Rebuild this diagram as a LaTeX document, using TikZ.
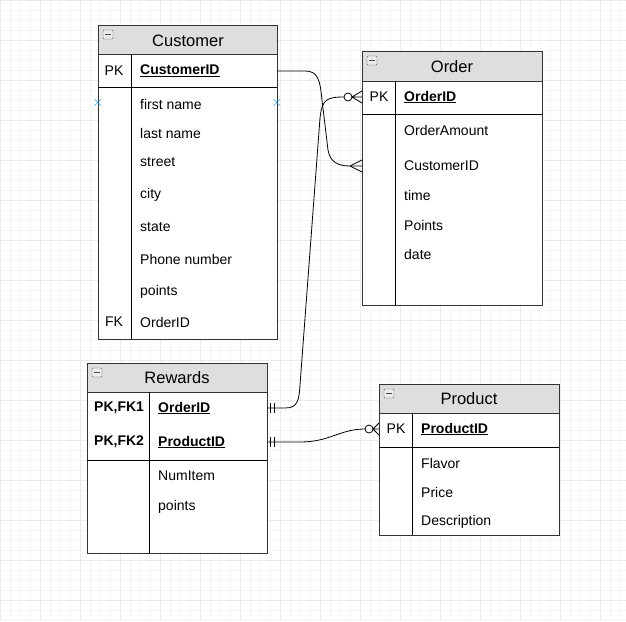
\documentclass[tikz,border=0pt]{standalone}
\usepackage{fontspec}
\setmainfont{Liberation Sans}
\usetikzlibrary{calc}

\tikzset{
  tbl/.style={draw=black!80, thick, fill=white},
  hdr/.style={draw=black!80, thick, fill=black!13},
  fld/.style={anchor=west, inner sep=0pt, font=\fontsize{14}{16}\selectfont},
  key/.style={anchor=center, inner sep=0pt, font=\fontsize{14}{16}\selectfont},
  ttl/.style={anchor=center, inner sep=0pt, font=\fontsize{16.5}{18}\selectfont},
  rel/.style={black, thick},
  pin/.style={text=cyan!80!blue, inner sep=0pt, font=\fontsize{14}{14}\selectfont},
}

% header minus box
\newcommand{\minusbox}[1]{%
  \draw[black!60, fill=black!8, rounded corners=1pt] ($(#1)+(-5,-4)$) rectangle ($(#1)+(5,5)$);
  \draw[black!70, thick] ($(#1)+(-3,0.5)$) -- ($(#1)+(3,0.5)$);}

\begin{document}
\begin{tikzpicture}[x=1pt, y=-1pt]
\useasboundingbox (0,0) rectangle (626,621);

% grid
\draw[black!4] (0,0) grid[step=10pt] (626,621);
\draw[black!8] (0,0) grid[step=40pt] (626,621);

% Customer
\draw[tbl] (98,25) rectangle (277,339);
\draw[hdr] (98,25) rectangle (277,54);
\draw[thick] (98,87) -- (277,87);
\draw[thick] (131,54) -- (131,339);
\minusbox{108,34}
\node[ttl] (cust) at (188,41) {Customer};
\node[key] (custpk) at (114,71) {PK};
\node[fld] (custid) at (140,71) {\textbf{\underline{CustomerID}}};
\node[fld] (custfn) at (140,104) {first name};
\node[fld] (custln) at (140,133) {last name};
\node[fld] (custst) at (140,162) {street};
\node[fld] (custct) at (140,195) {city};
\node[fld] (custsa) at (140,227) {state};
\node[fld] (custph) at (140,259) {Phone number};
\node[fld] (custpt) at (140,292) {points};
\node[key] (custfk) at (114,322) {FK};
\node[fld] (custoid) at (140,322) {OrderID};
\node[pin] (xl) at (98,103) {$\times$};
\node[pin] (xr) at (277,103) {$\times$};

% Order
\draw[tbl] (362,51) rectangle (542,305);
\draw[hdr] (362,51) rectangle (542,81);
\draw[thick] (362,114) -- (542,114);
\draw[thick] (395,81) -- (395,305);
\minusbox{372,60}
\node[ttl] (ord) at (452,67) {Order};
\node[key] (ordpk) at (379,97) {PK};
\node[fld] (ordid) at (404,97) {\textbf{\underline{OrderID}}};
\node[fld] (ordam) at (404,130) {OrderAmount};
\node[fld] (ordcid) at (404,166) {CustomerID};
\node[fld] (ordtm) at (404,195) {time};
\node[fld] (ordpt) at (404,225) {Points};
\node[fld] (orddt) at (404,254) {date};

% Rewards
\draw[tbl] (87,363) rectangle (267,553);
\draw[hdr] (87,363) rectangle (267,392);
\draw[thick] (87,460) -- (267,460);
\draw[thick] (149,392) -- (149,553);
\minusbox{97,372}
\node[ttl] (rew) at (177,378) {Rewards};
\node[fld] (rewk1) at (94,408) {\textbf{PK,FK1}};
\node[fld] (rewoid) at (158,408) {\textbf{\underline{OrderID}}};
\node[fld] (rewk2) at (94,442) {\textbf{PK,FK2}};
\node[fld] (rewpid) at (158,442) {\textbf{\underline{ProductID}}};
\node[fld] (rewni) at (158,476) {NumItem};
\node[fld] (rewpt) at (158,507) {points};

% Product
\draw[tbl] (379,384) rectangle (559,535);
\draw[hdr] (379,384) rectangle (559,413);
\draw[thick] (379,447) -- (559,447);
\draw[thick] (412,413) -- (412,535);
\minusbox{389,393}
\node[ttl] (prod) at (469,399) {Product};
\node[key] (prodpk) at (396,429) {PK};
\node[fld] (prodid) at (421,429) {\textbf{\underline{ProductID}}};
\node[fld] (prodfl) at (421,463) {Flavor};
\node[fld] (prodpr) at (421,492) {Price};
\node[fld] (prodds) at (421,522) {Description};

% relation ends
\coordinate (c1) at (277,71);
\coordinate (o1) at (362,166);
\coordinate (r1) at (267,408);
\coordinate (o2) at (362,97);
\coordinate (r2) at (267,442);
\coordinate (p1) at (379,429);

% Customer -- Order
\draw[rel] (c1) -- ++(28,0) .. controls ++(13,0) and (320,80) .. (322,100)
  -- (328,150) .. controls (330,162) and (338,166) .. (350,166) -- (o1);
\draw[rel] (350,166) -- ($(o1)+(0,-6)$) (350,166) -- ($(o1)+(0,6)$);

% Rewards -- Order
\draw[rel] (r1) -- ++(18,0) .. controls (298,408) and (299,400) .. (300,385)
  -- (320,118) .. controls (322,100) and (326,97) .. (344,97);
\draw[rel] (348,97) circle (4);
\draw[rel] (352,97) -- (o2) (352,97) -- ($(o2)+(0,-6)$) (352,97) -- ($(o2)+(0,6)$);
\draw[rel] ($(r1)+(3,-5)$) -- ++(0,10) ($(r1)+(7,-5)$) -- ++(0,10);

% Rewards -- Product
\draw[rel] (r2) -- ++(33,0) .. controls (330,442) and (340,429) .. (365,429);
\draw[rel] (369,429) circle (4);
\draw[rel] (373,429) -- (p1) (373,429) -- ($(p1)+(0,-6)$) (373,429) -- ($(p1)+(0,6)$);
\draw[rel] ($(r2)+(3,-5)$) -- ++(0,10) ($(r2)+(7,-5)$) -- ++(0,10);
\end{tikzpicture}
\end{document}
